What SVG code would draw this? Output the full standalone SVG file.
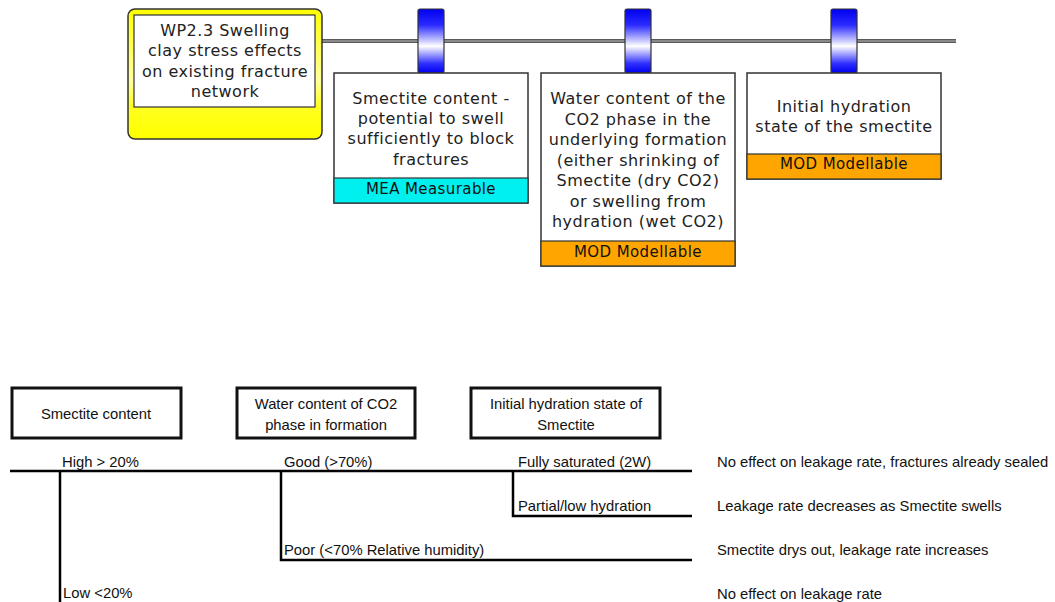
<svg xmlns="http://www.w3.org/2000/svg" width="1055" height="602" viewBox="0 0 1055 602">
  <defs>
    <linearGradient id="tabGrad" x1="0" y1="0" x2="0" y2="1">
      <stop offset="0" stop-color="#0000f0"/>
      <stop offset="0.25" stop-color="#2a2aff"/>
      <stop offset="0.58" stop-color="#ffffff"/>
      <stop offset="0.85" stop-color="#3030ff"/>
      <stop offset="1" stop-color="#0000f0"/>
    </linearGradient>
    <linearGradient id="yellowGrad" x1="0" y1="0" x2="0" y2="1">
      <stop offset="0" stop-color="#ffff00"/>
      <stop offset="0.55" stop-color="#ffffa0"/>
      <stop offset="0.75" stop-color="#ffff20"/>
      <stop offset="1" stop-color="#ffff00"/>
    </linearGradient>
  </defs>
  <style>
    .top { font-family: "DejaVu Sans", Verdana, sans-serif; font-size: 16px; letter-spacing: 0.5px; fill: #222; text-anchor: middle; }
    .tag { font-family: "DejaVu Sans", Verdana, sans-serif; font-size: 15px; letter-spacing: 0.4px; fill: #111; text-anchor: middle; }
    .card { fill: #fff; stroke: #333; stroke-width: 1.5; }
    .tab { fill: url(#tabGrad); stroke: #333; stroke-width: 1.2; }
    .bot { font-family: "Liberation Sans", Arial, sans-serif; font-size: 14.8px; fill: #111; }
    .botc { font-family: "Liberation Sans", Arial, sans-serif; font-size: 14.8px; fill: #111; text-anchor: middle; }
    .hbox { fill: #fff; stroke: #111; stroke-width: 3; }
    .tree { fill: none; stroke: #000; stroke-width: 2.5; }
  </style>

  <!-- spine line -->
  <g id="connectors">
    <line x1="320" y1="41" x2="956" y2="41" stroke="#5a5a5a" stroke-width="4"/>
    <line x1="320" y1="41" x2="956" y2="41" stroke="#9a9a9a" stroke-width="1.5"/>
  </g>

  <!-- main topic -->
  <g id="wp23">
    <rect x="128" y="9" width="194" height="130" rx="7" fill="url(#yellowGrad)" stroke="#333" stroke-width="1.5"/>
    <rect x="134" y="15" width="181" height="92" fill="#fff" stroke="#333" stroke-width="1.2"/>
    <text class="top" x="225" y="36">WP2.3 Swelling</text>
    <text class="top" x="225" y="56">clay stress effects</text>
    <text class="top" x="225" y="77">on existing fracture</text>
    <text class="top" x="225" y="97">network</text>
  </g>

  <!-- factor 1 -->
  <g id="smectite-content">
    <rect class="tab" x="418" y="9" width="26" height="64" rx="2"/>
    <rect class="card" x="334" y="73" width="194" height="130"/>
    <rect x="334" y="178" width="194" height="25" fill="#00f0f0" stroke="#333" stroke-width="1.2"/>
    <text class="top" x="431" y="104">Smectite content -</text>
    <text class="top" x="431" y="124">potential to swell</text>
    <text class="top" x="431" y="144">sufficiently to block</text>
    <text class="top" x="431" y="165">fractures</text>
    <text class="tag" x="431" y="194">MEA Measurable</text>
  </g>

  <!-- factor 2 -->
  <g id="water-content">
    <rect class="tab" x="625" y="9" width="26" height="64" rx="2"/>
    <rect class="card" x="541" y="73" width="194" height="193"/>
    <rect x="541" y="241" width="194" height="25" fill="#ffa500" stroke="#333" stroke-width="1.2"/>
    <text class="top" x="638" y="104">Water content of the</text>
    <text class="top" x="638" y="125">CO2 phase in the</text>
    <text class="top" x="638" y="145">underlying formation</text>
    <text class="top" x="638" y="166">(either shrinking of</text>
    <text class="top" x="638" y="186">Smectite (dry CO2)</text>
    <text class="top" x="638" y="207">or swelling from</text>
    <text class="top" x="638" y="227">hydration (wet CO2)</text>
    <text class="tag" x="638" y="257">MOD Modellable</text>
  </g>

  <!-- factor 3 -->
  <g id="initial-hydration">
    <rect class="tab" x="831" y="9" width="26" height="64" rx="2"/>
    <rect class="card" x="747" y="73" width="194" height="106"/>
    <rect x="747" y="154" width="194" height="25" fill="#ffa500" stroke="#333" stroke-width="1.2"/>
    <text class="top" x="844" y="112">Initial hydration</text>
    <text class="top" x="844" y="132">state of the smectite</text>
    <text class="tag" x="844" y="169">MOD Modellable</text>
  </g>

  <!-- decision tree headers -->
  <g id="hdr-smectite">
    <rect class="hbox" x="12" y="388" width="169" height="50"/>
    <text class="botc" x="96" y="419">Smectite content</text>
  </g>
  <g id="hdr-water">
    <rect class="hbox" x="237" y="388" width="178" height="50"/>
    <text class="botc" x="326" y="409">Water content of CO2</text>
    <text class="botc" x="326" y="430">phase in formation</text>
  </g>
  <g id="hdr-hydration">
    <rect class="hbox" x="471" y="388" width="189" height="50"/>
    <text class="botc" x="566" y="409">Initial hydration state of</text>
    <text class="botc" x="566" y="430">Smectite</text>
  </g>

  <!-- decision tree branches -->
  <g id="tree-lines">
    <line class="tree" x1="10" y1="471" x2="692" y2="471"/>
    <line class="tree" x1="60" y1="471" x2="60" y2="602"/>
    <polyline class="tree" points="281,471 281,560 692,560"/>
    <polyline class="tree" points="513,471 513,516 692,516"/>
  </g>

  <g id="tree-labels">
    <text class="bot" x="62" y="467">High &gt; 20%</text>
    <text class="bot" x="284" y="467">Good (&gt;70%)</text>
    <text class="bot" x="518" y="467">Fully saturated (2W)</text>
    <text class="bot" x="518" y="511">Partial/low hydration</text>
    <text class="bot" x="284" y="555">Poor (&lt;70% Relative humidity)</text>
    <text class="bot" x="63" y="598">Low &lt;20%</text>
  </g>

  <g id="outcomes">
    <text class="bot" x="717" y="467">No effect on leakage rate, fractures already sealed</text>
    <text class="bot" x="717" y="511">Leakage rate decreases as Smectite swells</text>
    <text class="bot" x="717" y="555">Smectite drys out, leakage rate increases</text>
    <text class="bot" x="717" y="599">No effect on leakage rate</text>
  </g>
</svg>
